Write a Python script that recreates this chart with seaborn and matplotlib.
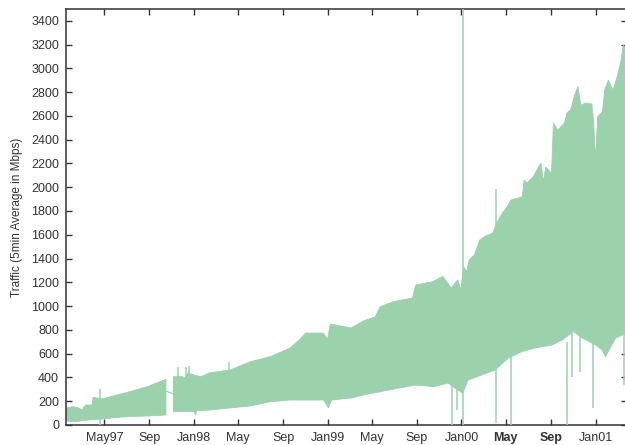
import numpy as np
import pandas as pd
import matplotlib
matplotlib.use("Agg")
import matplotlib.pyplot as plt
import matplotlib.dates as mdates
import seaborn as sns

# Daily traffic band (5-min averages): upper and lower envelopes, before the Oct-Nov 1997 outage
upper_dates_a = ["1997-01-16", "1997-02-05", "1997-02-20", "1997-03-01", "1997-03-10", "1997-03-28",
                 "1997-03-31", "1997-04-25", "1997-06-01", "1997-07-15", "1997-08-26", "1997-10-16"]
upper_vals_a = [143, 154, 143, 126, 168, 168, 233, 219, 250, 285, 322, 384]
lower_dates_a = ["1997-01-16", "1997-02-10", "1997-03-20", "1997-04-25", "1997-06-15", "1997-08-26",
                 "1997-10-16"]
lower_vals_a = [34, 28, 42, 50, 67, 76, 84]

# ... and after it
upper_dates_b = ["1997-11-05", "1997-12-01", "1997-12-05", "1997-12-15", "1998-01-01", "1998-01-20",
                 "1998-02-14", "1998-04-09", "1998-06-03", "1998-07-28", "1998-09-20", "1998-10-17",
                 "1998-11-01", "1998-12-20", "1998-12-31", "1999-01-08", "1999-03-06", "1999-04-08",
                 "1999-05-10", "1999-05-24", "1999-06-29", "1999-08-20", "1999-08-29", "1999-10-14",
                 "1999-11-11", "1999-12-04", "1999-12-22", "1999-12-30", "2000-01-07", "2000-01-15",
                 "2000-01-22", "2000-02-05", "2000-02-20", "2000-03-04", "2000-03-26", "2000-04-08",
                 "2000-04-24", "2000-05-05", "2000-05-15", "2000-06-15", "2000-06-20", "2000-06-28",
                 "2000-07-15", "2000-07-25", "2000-08-05", "2000-08-12", "2000-08-18", "2000-09-03",
                 "2000-09-08", "2000-09-20", "2000-10-08", "2000-10-15", "2000-10-25", "2000-11-05",
                 "2000-11-14", "2000-11-22", "2000-12-05", "2000-12-22", "2000-12-27", "2001-01-01",
                 "2001-01-07", "2001-01-20", "2001-01-26", "2001-02-05", "2001-02-18", "2001-03-02",
                 "2001-03-12", "2001-03-18", "2001-03-28"]
upper_vals_b = [406, 406, 395, 437, 420, 406,
                440, 462, 532, 575, 647, 721,
                773, 773, 720, 849, 816, 875,
                908, 995, 1037, 1068, 1177, 1205,
                1250, 1152, 1220, 1135, 1331, 1289,
                1388, 1430, 1556, 1585, 1613, 1710,
                1794, 1836, 1892, 1920, 2060, 2035,
                2088, 2145, 2203, 2046, 2170, 2117,
                2540, 2481, 2540, 2624, 2650, 2775,
                2845, 2690, 2708, 2700, 2540, 2229,
                2593, 2635, 2817, 2900, 2817, 2940,
                3070, 3196, 3150]
lower_dates_b = ["1997-11-05", "1997-12-20", "1998-01-01", "1998-01-04", "1998-01-08", "1998-02-14",
                 "1998-04-09", "1998-06-03", "1998-07-28", "1998-09-20", "1998-12-20", "1999-01-03",
                 "1999-01-11", "1999-03-06", "1999-04-08", "1999-05-24", "1999-07-10", "1999-08-29",
                 "1999-10-20", "1999-11-25", "1999-12-22", "2000-01-04", "2000-01-10", "2000-01-19",
                 "2000-02-25", "2000-04-02", "2000-05-08", "2000-06-14", "2000-07-20", "2000-09-05",
                 "2000-10-02", "2000-11-02", "2000-11-26", "2001-01-01", "2001-01-19", "2001-01-28",
                 "2001-02-25", "2001-03-28"]
lower_vals_b = [112, 115, 110, 84, 120, 126,
                143, 160, 196, 210, 210, 143,
                210, 227, 252, 280, 308, 336,
                322, 353, 294, 269, 311, 378,
                420, 462, 563, 617, 647, 673,
                715, 785, 731, 673, 631, 574,
                731, 774]

# Isolated 5-min outliers (outages and bursts)
spike_dates = ["1997-04-18", "1997-11-19", "1997-12-10", "1997-12-19", "1998-04-07", "1999-12-05",
               "1999-12-21", "2000-01-06", "2000-04-05", "2000-05-16", "2000-10-14", "2000-10-29",
               "2000-11-21", "2000-12-25", "2001-03-21"]
spike_low = [0, 400, 400, 400, 450, 0, 126, 0, 17, 0, 0, 406, 448, 146, 336]
spike_high = [303, 490, 490, 496, 532, 400, 400, 3500, 1985, 600, 700, 800, 800, 700, 800]

# Straight segment joining the samples on either side of the outage
link_dates = ["1997-10-16", "1997-11-05"]
link_vals = [285, 262]

tick_dates = ["1997-05-01", "1997-09-01", "1998-01-01", "1998-05-01", "1998-09-01", "1999-01-01",
              "1999-05-01", "1999-09-01", "2000-01-01", "2000-05-01", "2000-09-01", "2001-01-01"]
tick_labels = ["May97", "Sep", "Jan98", "May", "Sep", "Jan99", "May", "Sep", "Jan00", "May", "Sep", "Jan01"]
bold_labels = [False] * 9 + [True, True, False]

y_ticks = list(range(0, 3401, 200))

GREEN = "#9bd1ac"
INK = "#333333"

sns.set_theme(style="ticks")
plt.rcParams["font.family"] = ["Liberation Sans", "DejaVu Sans"]

fig = plt.figure(figsize=(6.25, 4.45), dpi=100)
ax = fig.add_axes([0.1056, 0.045, 0.8976, 0.935])


def band(ud, uv, ld, lv):
    xu = mdates.date2num(pd.to_datetime(ud))
    xl = mdates.date2num(pd.to_datetime(ld))
    xs = np.concatenate([xu, xl[::-1]])
    ys = np.concatenate([uv, lv[::-1]])
    ax.fill(xs, ys, color=GREEN, lw=0.6, ec=GREEN, zorder=2)


band(upper_dates_a, upper_vals_a, lower_dates_a, lower_vals_a)
band(upper_dates_b, upper_vals_b, lower_dates_b, lower_vals_b)

ax.vlines(pd.to_datetime(spike_dates), spike_low, spike_high, color=GREEN, lw=1.1, zorder=3)

link = pd.DataFrame({"date": pd.to_datetime(link_dates), "traffic": link_vals})
sns.lineplot(data=link, x="date", y="traffic", color=GREEN, lw=0.9, ax=ax, zorder=3)

ax.set_xlim(pd.Timestamp("1997-01-16"), pd.Timestamp("2001-03-28"))
ax.set_ylim(0, 3500)

ax.set_yticks(y_ticks)
ax.set_yticklabels([str(v) for v in y_ticks])
ax.set_xticks(pd.to_datetime(tick_dates))
ax.set_xticklabels(tick_labels)
for lbl, b in zip(ax.get_xticklabels(), bold_labels):
    if b:
        lbl.set_fontweight("bold")

ax.tick_params(axis="both", direction="in", length=4.5, width=1.0, color=INK,
               labelsize=9, labelcolor=INK, pad=5, top=True, right=True)
for s in ax.spines.values():
    s.set_color(INK)
    s.set_linewidth(1.1)

ax.set_xlabel("")
ax.set_ylabel("Traffic (5min Average in Mbps)", fontsize=8.5, color=INK, labelpad=6)
ax.grid(False)

fig.savefig("out.png", dpi=100)
